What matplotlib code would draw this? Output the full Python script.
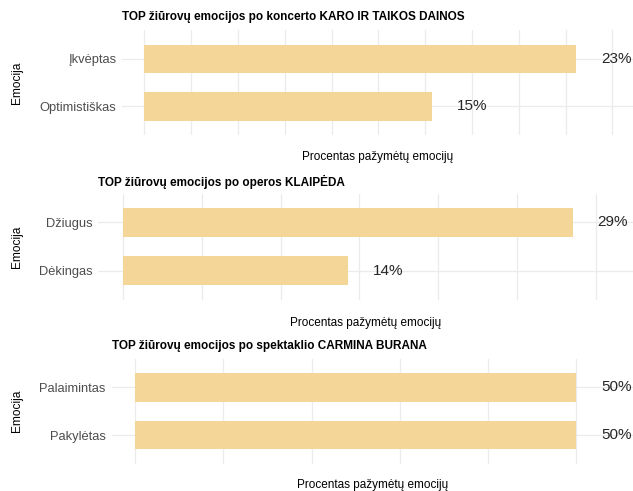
import matplotlib
matplotlib.use("Agg")
import matplotlib.pyplot as plt
import numpy as np

plt.rcParams['font.family'] = ['Liberation Sans', 'DejaVu Sans']

# ---- data ----
titles = [
    "TOP žiūrovų emocijos po koncerto KARO IR TAIKOS DAINOS",
    "TOP žiūrovų emocijos po operos KLAIPĖDA",
    "TOP žiūrovų emocijos po spektaklio CARMINA BURANA",
]
emotions_1 = ["Įkvėptas", "Optimistiškas"]
percent_1 = [23.08, 15.38]
emotions_2 = ["Džiugus", "Dėkingas"]
percent_2 = [28.57, 14.29]
emotions_3 = ["Palaimintas", "Pakylėtas"]
percent_3 = [50.0, 50.0]
x_title = "Procentas pažymėtų emocijų"
y_title = "Emocija"

# ---- layout (pixels) ----
W, H = 633, 491
panels = [
    # left, top, bottom, xlim, grid step, xlabel y
    dict(L=122.0, T=30.2, B=135.1, xlim=(-1.19, 26.1), step=2.5, title_y=16.7, xlab_y=156.7),
    dict(L=98.3, T=193.5, B=299.5, xlim=(-1.59, 32.38), step=5, title_y=181.7, xlab_y=323.3),
    dict(L=111.7, T=358.5, B=463.7, xlim=(-2.64, 56.4), step=10, title_y=345.7, xlab_y=485.0),
]
series = [(emotions_1, percent_1), (emotions_2, percent_2), (emotions_3, percent_3)]

BAR = "#F5D699"
GRID = "#EBEBEB"

fig = plt.figure(figsize=(W / 100, H / 100), dpi=100)
fig.patch.set_facecolor("white")

for p, (cats, vals), title in zip(panels, series, titles):
    ax = fig.add_axes([p["L"] / W, 1 - p["B"] / H, (W - p["L"]) / W, (p["B"] - p["T"]) / H])
    ax.set_facecolor("white")
    ypos = np.arange(len(cats))
    ax.barh(ypos, vals, height=0.6, color=BAR, zorder=2)
    ax.set_xlim(*p["xlim"])
    ax.set_ylim(len(cats) - 0.4, -0.6)
    ax.set_xticks(np.arange(0, p["xlim"][1], p["step"]))
    ax.set_yticks(ypos)
    ax.set_yticklabels(cats, fontsize=9.25, color="#4D4D4D")
    ax.tick_params(axis="both", length=0)
    ax.tick_params(axis="y", pad=4.3)
    ax.tick_params(axis="x", labelbottom=False)
    ax.grid(True, color=GRID, linewidth=0.9, zorder=0)
    ax.set_axisbelow(True)
    for s in ax.spines.values():
        s.set_visible(False)
    for y, v in zip(ypos, vals):
        ax.annotate(f"{round(v)}%", xy=(v, y), xytext=(24.5, 0), textcoords="offset pixels",
                    ha="left", va="center", fontsize=11, color="#262626", zorder=3,
                    annotation_clip=False)
    # title, axis titles
    fig.text(p["L"] / W, 1 - p["title_y"] / H, title, ha="left", va="center",
             fontsize=8.5, fontweight="bold", color="black")
    fig.text((p["L"] + W) / 2 / W, 1 - p["xlab_y"] / H, x_title, ha="center", va="center",
             fontsize=8.5, color="black")
    fig.text(16.7 / W, 1 - (p["T"] + p["B"]) / 2 / H, y_title, ha="center", va="center",
             rotation=90, fontsize=8.6, color="black")

fig.savefig("out.png", dpi=100, facecolor="white")
